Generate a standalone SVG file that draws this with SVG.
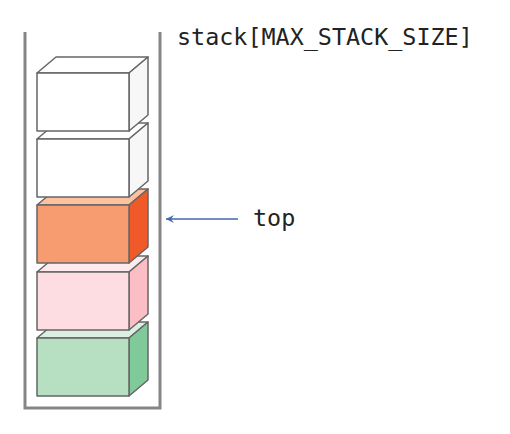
<svg xmlns="http://www.w3.org/2000/svg" width="510" height="434" viewBox="0 0 510 434">
<style>
.box path{stroke:#666;stroke-width:1.5;stroke-linejoin:round}
.lbl{font-family:"DejaVu Sans Mono","Liberation Mono",monospace;font-size:23.4px;fill:#222}
</style>
<defs>
<marker id="ah" markerWidth="12" markerHeight="12" refX="9" refY="6" orient="auto" markerUnits="userSpaceOnUse">
<path d="M1,2 L9,6 L1,10 L4,6 Z" fill="#4466b0"/>
</marker>
</defs>
<rect width="510" height="434" fill="#fff"/>
<g id="container">
<path d="M25,32 V408 H160 V32" fill="none" stroke="#858585" stroke-width="3"/>
</g>
<g id="box5" class="box">
<path d="M37,338 L56,322 H148 L129,338 Z" fill="#dcf0e2"/>
<path d="M129,338 L148,322 V380 L129,396 Z" fill="#80c998"/>
<path d="M37,338 H129 V396 H37 Z" fill="#b7dfc2"/>
</g>
<g id="box4" class="box">
<path d="M37,272 L56,256 H148 L129,272 Z" fill="#feeaec"/>
<path d="M129,272 L148,256 V314 L129,330 Z" fill="#fbbec5"/>
<path d="M37,272 H129 V330 H37 Z" fill="#fddde1"/>
</g>
<g id="box3" class="box">
<path d="M37,205 L56,189 H148 L129,205 Z" fill="#fcc19f"/>
<path d="M129,205 L148,189 V247 L129,263 Z" fill="#f05a28"/>
<path d="M37,205 H129 V263 H37 Z" fill="#f79c70"/>
</g>
<g id="box2" class="box">
<path d="M37,139 L56,123 H148 L129,139 Z" fill="#fff"/>
<path d="M129,139 L148,123 V181 L129,197 Z" fill="#f7f7f7"/>
<path d="M37,139 H129 V197 H37 Z" fill="#fff"/>
</g>
<g id="box1" class="box">
<path d="M37,73 L56,57 H148 L129,73 Z" fill="#fff"/>
<path d="M129,73 L148,57 V115 L129,131 Z" fill="#f7f7f7"/>
<path d="M37,73 H129 V131 H37 Z" fill="#fff"/>
</g>
<g id="connectors">
<line x1="238" y1="219" x2="166" y2="219" stroke="#4466b0" stroke-width="1.5" marker-end="url(#ah)"/>
</g>
<g id="labels">
<text class="lbl" x="177" y="45">stack[MAX_STACK_SIZE]</text>
<text class="lbl" x="253" y="226">top</text>
</g>
</svg>
